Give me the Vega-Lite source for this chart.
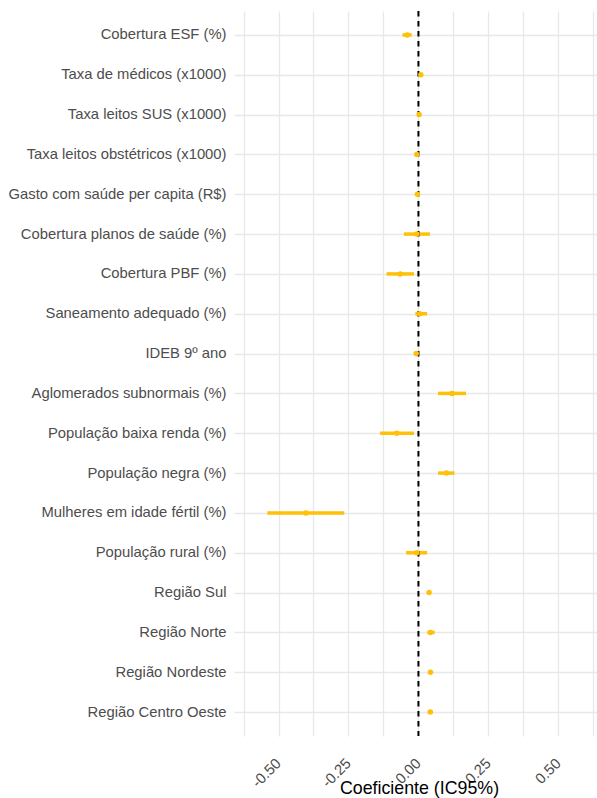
{
  "$schema": "https://vega.github.io/schema/vega-lite/v6.json",
  "width": 363,
  "height": 725,
  "autosize": {"type": "none"},
  "padding": {"left": 234, "top": 11, "right": 0, "bottom": 62},
  "background": "white",
  "config": {
    "view": {"stroke": null},
    "font": "Liberation Sans",
    "axis": {"gridColor": "#e8e8e8", "gridWidth": 1.3, "domain": false, "ticks": false}
  },
  "data": {
    "values": [
      {"var": "Cobertura ESF (%)", "est": -0.040, "lo": -0.057, "hi": -0.024},
      {"var": "Taxa de médicos (x1000)", "est": 0.0085, "lo": 0.006, "hi": 0.011},
      {"var": "Taxa leitos SUS (x1000)", "est": 0.0025, "lo": 0.001, "hi": 0.004},
      {"var": "Taxa leitos obstétricos (x1000)", "est": -0.006, "lo": -0.008, "hi": -0.004},
      {"var": "Gasto com saúde per capita (R$)", "est": -0.0036, "lo": -0.005, "hi": -0.002},
      {"var": "Cobertura planos de saúde (%)", "est": -0.006, "lo": -0.052, "hi": 0.041},
      {"var": "Cobertura PBF (%)", "est": -0.065, "lo": -0.114, "hi": -0.016},
      {"var": "Saneamento adequado (%)", "est": 0.004, "lo": -0.011, "hi": 0.031},
      {"var": "IDEB 9º ano", "est": -0.008, "lo": -0.010, "hi": -0.006},
      {"var": "Aglomerados subnormais (%)", "est": 0.120, "lo": 0.070, "hi": 0.170},
      {"var": "População baixa renda (%)", "est": -0.077, "lo": -0.137, "hi": -0.016},
      {"var": "População negra (%)", "est": 0.100, "lo": 0.070, "hi": 0.129},
      {"var": "Mulheres em idade fértil (%)", "est": -0.402, "lo": -0.540, "hi": -0.265},
      {"var": "População rural (%)", "est": -0.006, "lo": -0.044, "hi": 0.031},
      {"var": "Região Sul", "est": 0.038, "lo": 0.034, "hi": 0.042},
      {"var": "Região Norte", "est": 0.043, "lo": 0.032, "hi": 0.058},
      {"var": "Região Nordeste", "est": 0.043, "lo": 0.038, "hi": 0.048},
      {"var": "Região Centro Oeste", "est": 0.042, "lo": 0.034, "hi": 0.052}
    ]
  },
  "layer": [
    {
      "mark": {"type": "rule", "strokeWidth": 3.5, "color": "#FFC107"},
      "encoding": {
        "y": {
          "field": "var", "type": "nominal", "sort": null,
          "scale": {"type": "point", "padding": 0.6},
          "axis": {"title": null, "labelFont": "Liberation Sans", "labelFontSize": 14.8, "labelColor": "#4d4d4d", "labelPadding": 8, "labelLimit": 400, "grid": true}
        },
        "x": {
          "field": "lo", "type": "quantitative",
          "scale": {"domain": [-0.659, 0.638], "nice": false, "zero": false},
          "axis": {
            "title": "Coeficiente (IC95%)", "titleFont": "Liberation Sans", "titleFontSize": 17.8, "titleFontWeight": "normal", "titleColor": "#000000",
            "titleY": 57, "titleX": 185, "titleBaseline": "alphabetic",
            "values": [-0.625, -0.5, -0.375, -0.25, -0.125, 0, 0.125, 0.25, 0.375, 0.5, 0.625],
            "tickCount": 30,
            "labelExpr": "(datum.value == -0.5 || datum.value == -0.25 || datum.value == 0 || datum.value == 0.25 || datum.value == 0.5) ? replace(format(datum.value, '.2f'), '−', '-') : ''",
            "labelOverlap": false,
            "labelAngle": -45, "labelAlign": "right", "labelBaseline": "middle",
            "labelFontSize": 14.8, "labelColor": "#4d4d4d", "labelPadding": 25, "grid": true
          }
        },
        "x2": {"field": "hi"}
      }
    },
    {
      "data": {"values": [{}]},
      "mark": {"type": "rule", "color": "black", "strokeWidth": 2, "strokeDash": [5.5, 4.5]},
      "encoding": {"x": {"datum": 0}}
    },
    {
      "mark": {"type": "circle", "size": 30, "opacity": 1, "color": "#FFC107"},
      "encoding": {
        "y": {"field": "var", "type": "nominal", "sort": null},
        "x": {"field": "est", "type": "quantitative"}
      }
    }
  ]
}
